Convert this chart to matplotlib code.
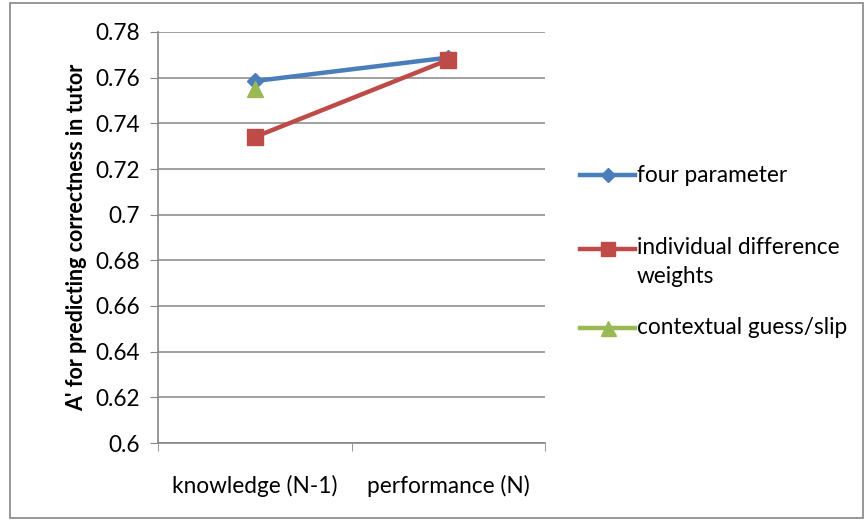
import numpy as np
import matplotlib.pyplot as plt
from matplotlib.lines import Line2D

plt.rcParams['font.family'] = ['Lato', 'DejaVu Sans']

categories = ["knowledge (N-1)", "performance (N)"]
four_param = [0.7585, 0.7688]
indiv_weights = [0.734, 0.7678]
contextual = [0.7552, np.nan]  # only shown for knowledge
yticks = [0.6, 0.62, 0.64, 0.66, 0.68, 0.7, 0.72, 0.74, 0.76, 0.78]
ytick_labels = ["0.6", "0.62", "0.64", "0.66", "0.68", "0.7", "0.72", "0.74", "0.76", "0.78"]
series_names = ["four parameter", "individual difference\nweights", "contextual guess/slip"]

fig = plt.figure(figsize=(8.65, 5.2), dpi=100)
ax = fig.add_axes([158/865, 1-443/520, (545-158)/865, (443-32)/520])

# outer chart border like excel
fig.patches.append(plt.Rectangle((10/865, 2/520), 853/865, 515/520, transform=fig.transFigure,
                                 fill=False, edgecolor='#868686', linewidth=1.2))

styles = [dict(color='#4a7ebb', marker='D', markersize=8),
          dict(color='#be4b48', marker='s', markersize=11),
          dict(color='#98b954', marker='^', markersize=12)]

x = np.arange(len(categories))
for i, vals in enumerate([four_param, indiv_weights, contextual]):
    ax.plot(x, vals, linewidth=3.2, zorder=3 + i, **styles[i])

ax.set_xlim(-0.5, 1.5)
ax.set_ylim(0.6, 0.78)
ax.set_yticks(yticks)
ax.set_yticklabels(ytick_labels)
ax.set_xticks(x)
ax.set_xticklabels(categories)
ax.set_xticks([-0.5, 0.5, 1.5], minor=True)
ax.tick_params(axis='x', which='major', length=0, pad=23, labelsize=16.3, colors='black')
ax.tick_params(axis='x', which='minor', length=6, color='#868686', direction='out')
ax.tick_params(axis='y', length=6, color='#868686', direction='out', pad=7, labelsize=16.3)
ax.yaxis.grid(True, color='#868686', linewidth=1.1)
ax.set_axisbelow(True)
for s in ['top', 'right']:
    ax.spines[s].set_visible(False)
for s in ['left', 'bottom']:
    ax.spines[s].set_color('#868686')
    ax.spines[s].set_linewidth(1.2)

ax.set_ylabel("A' for predicting correctness in tutor", fontsize=15.5, fontweight='bold', labelpad=6)

# legend drawn by hand to get excel-like spacing
leg_y = [175, 249, 328]
for i in range(3):
    yy = 1 - leg_y[i]/520
    fig.add_artist(Line2D([580/865, 635/865], [yy, yy], transform=fig.transFigure,
                          linewidth=3.2, color=styles[i]['color']))
    fig.add_artist(Line2D([607.5/865], [yy], transform=fig.transFigure, linestyle='none',
                          marker=styles[i]['marker'], color=styles[i]['color'],
                          markersize=styles[i]['markersize'] * 0.9))
    if '\n' in series_names[i]:
        fig.text(637/865, 1 - (leg_y[i] - 12)/520, series_names[i], fontsize=16.3,
                 va='top', ha='left', linespacing=1.45)
    else:
        fig.text(637/865, yy, series_names[i], fontsize=16.3, va='center', ha='left')

plt.savefig('out.png', dpi=100)
